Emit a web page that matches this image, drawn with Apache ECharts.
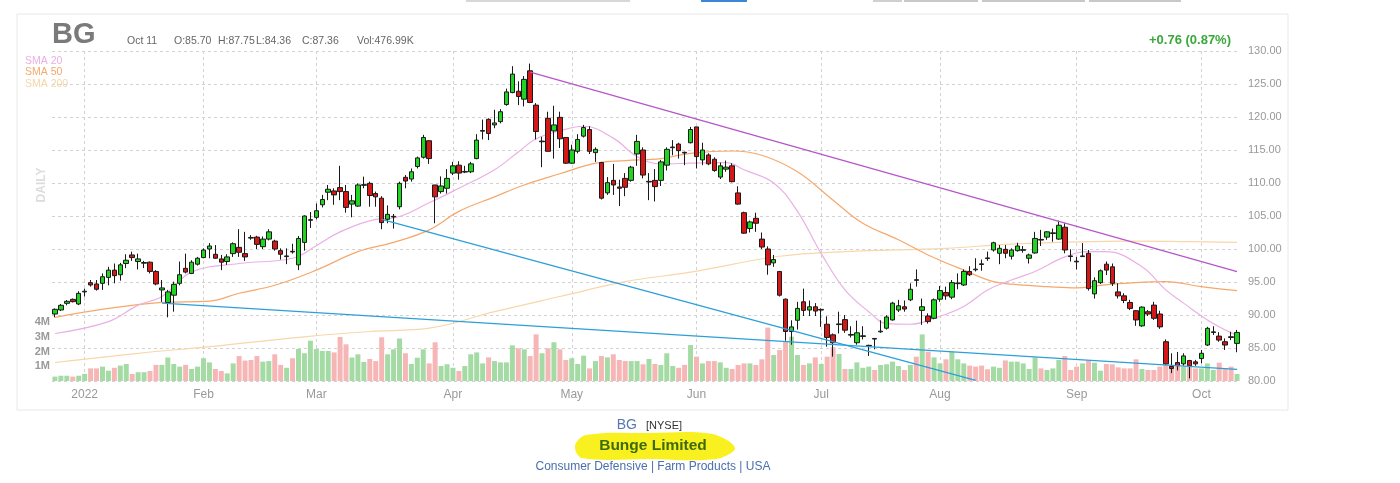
<!DOCTYPE html>
<html>
<head>
<meta charset="utf-8">
<script src="https://cdn.jsdelivr.net/npm/echarts@6/dist/echarts.min.js"></script>
<style>
  html, body { margin: 0; padding: 0; background: #fff; }
  #container { width: 1400px; height: 483px; }
</style>
</head>
<body>
<div id="container"></div>
<script>
// trading days shown (Dec 27 2021 .. Oct 11 2022)
var dates = [
  '2021-12-27','2021-12-28','2021-12-29','2021-12-30','2021-12-31',
  '2022-01-03','2022-01-04','2022-01-05','2022-01-06','2022-01-07','2022-01-10','2022-01-11','2022-01-12','2022-01-13','2022-01-14',
  '2022-01-18','2022-01-19','2022-01-20','2022-01-21','2022-01-24','2022-01-25','2022-01-26','2022-01-27','2022-01-28','2022-01-31',
  '2022-02-01','2022-02-02','2022-02-03','2022-02-04','2022-02-07','2022-02-08','2022-02-09','2022-02-10','2022-02-11','2022-02-14',
  '2022-02-15','2022-02-16','2022-02-17','2022-02-18','2022-02-22','2022-02-23','2022-02-24','2022-02-25','2022-02-28',
  '2022-03-01','2022-03-02','2022-03-03','2022-03-04','2022-03-07','2022-03-08','2022-03-09','2022-03-10','2022-03-11','2022-03-14',
  '2022-03-15','2022-03-16','2022-03-17','2022-03-18','2022-03-21','2022-03-22','2022-03-23','2022-03-24','2022-03-25','2022-03-28',
  '2022-03-29','2022-03-30','2022-03-31',
  '2022-04-01','2022-04-04','2022-04-05','2022-04-06','2022-04-07','2022-04-08','2022-04-11','2022-04-12','2022-04-13','2022-04-14',
  '2022-04-18','2022-04-19','2022-04-20','2022-04-21','2022-04-22','2022-04-25','2022-04-26','2022-04-27','2022-04-28','2022-04-29',
  '2022-05-02','2022-05-03','2022-05-04','2022-05-05','2022-05-06','2022-05-09','2022-05-10','2022-05-11','2022-05-12','2022-05-13',
  '2022-05-16','2022-05-17','2022-05-18','2022-05-19','2022-05-20','2022-05-23','2022-05-24','2022-05-25','2022-05-26','2022-05-27','2022-05-31',
  '2022-06-01','2022-06-02','2022-06-03','2022-06-06','2022-06-07','2022-06-08','2022-06-09','2022-06-10','2022-06-13','2022-06-14',
  '2022-06-15','2022-06-16','2022-06-17','2022-06-21','2022-06-22','2022-06-23','2022-06-24','2022-06-27','2022-06-28','2022-06-29','2022-06-30',
  '2022-07-01','2022-07-05','2022-07-06','2022-07-07','2022-07-08','2022-07-11','2022-07-12','2022-07-13','2022-07-14','2022-07-15',
  '2022-07-18','2022-07-19','2022-07-20','2022-07-21','2022-07-22','2022-07-25','2022-07-26','2022-07-27','2022-07-28','2022-07-29',
  '2022-08-01','2022-08-02','2022-08-03','2022-08-04','2022-08-05','2022-08-08','2022-08-09','2022-08-10','2022-08-11','2022-08-12',
  '2022-08-15','2022-08-16','2022-08-17','2022-08-18','2022-08-19','2022-08-22','2022-08-23','2022-08-24','2022-08-25','2022-08-26',
  '2022-08-29','2022-08-30','2022-08-31',
  '2022-09-01','2022-09-02','2022-09-06','2022-09-07','2022-09-08','2022-09-09','2022-09-12','2022-09-13','2022-09-14','2022-09-15',
  '2022-09-16','2022-09-19','2022-09-20','2022-09-21','2022-09-22','2022-09-23','2022-09-26','2022-09-27','2022-09-28','2022-09-29','2022-09-30',
  '2022-10-03','2022-10-04','2022-10-05','2022-10-06','2022-10-07','2022-10-10','2022-10-11'
];

var opens = [
  90.15,90.76,91.77,92.37,91.67,93.5,94.9,94.7,94.8,95.7,96.8,96.1,97.8,99.1,98.1,97.85,98.0,96.6,93.8,91.9,
  93.0,94.8,97.07,96.3,97.7,98.7,100.0,99.2,98.5,98.1,99.3,100.25,99.3,101.75,101.8,100.35,101.5,101.2,99.75,98.85,
  99.65,97.6,101.0,104.35,104.8,106.7,108.6,108.8,109.3,108.7,106.8,106.5,109.65,109.95,108.4,107.7,104.5,104.85,106.4,110.86,
  110.6,112.5,113.9,116.4,109.7,108.7,109.2,111.5,112.7,111.65,111.7,113.7,117.85,119.65,118.8,119.3,121.9,123.7,123.9,122.7,
  127.0,121.8,116.25,119.8,117.9,119.95,116.9,113.0,114.8,117.1,118.1,114.6,113.1,108.5,110.4,109.4,110.7,110.4,114.4,115.0,
  110.15,110.4,110.4,112.7,115.35,115.9,114.65,116.1,118.5,113.5,114.25,113.6,110.9,112.1,112.6,108.5,105.5,103.1,104.65,101.5,
  100.0,97.9,96.6,92.4,87.5,89.2,92.0,90.75,91.25,90.75,88.6,87.0,88.55,89.3,86.95,85.8,86.75,85.3,86.45,87.45,
  88.0,89.25,90.75,91.25,92.3,95.35,90.7,89.85,89.5,92.4,93.4,92.7,94.75,94.55,96.6,96.95,97.75,98.65,99.85,99.35,
  99.95,98.9,99.75,99.8,98.6,99.4,101.45,101.8,102.35,101.5,103.3,98.95,98.15,98.85,99.35,93.2,94.9,97.7,97.3,93.5,
  92.9,91.9,90.65,88.35,90.5,91.5,90.15,85.95,82.2,82.8,82.6,83.1,82.9,83.4,85.45,87.35,86.8,85.95,86.7,85.7
];
var highs = [
  91.0,91.67,92.27,92.5,93.6,94.0,95.3,95.3,96.3,97.3,97.8,97.9,99.2,99.6,99.3,98.2,98.1,96.8,95.3,93.8,
  95.05,98.1,99.3,98.3,98.8,100.1,100.9,100.6,99.1,99.2,101.0,103.0,102.6,102.1,102.0,101.9,103.0,101.4,100.1,100.1,
  100.8,101.97,105.1,105.6,106.9,108.2,109.7,109.2,112.6,109.7,108.2,109.95,110.96,110.2,108.7,108.0,106.6,105.3,110.2,111.2,
  112.2,114.0,117.3,116.5,109.7,111.0,112.1,113.2,113.3,112.6,113.2,117.4,119.6,119.8,121.1,121.2,124.3,127.7,125.4,126.2,
  128.1,122.1,117.0,120.8,121.7,120.8,116.9,115.8,117.4,118.8,118.6,115.4,113.2,110.9,112.9,110.5,111.5,112.6,117.3,115.4,
  111.5,112.1,113.5,115.4,116.5,116.1,114.75,118.5,118.5,116.1,114.5,113.9,113.1,113.4,113.0,109.5,105.66,104.3,105.5,102.5,
  100.4,99.1,96.6,92.5,89.2,92.0,94.0,92.2,91.8,91.0,89.8,87.2,90.5,90.0,88.3,89.15,88.3,85.5,86.5,89.2,
  89.97,92.0,92.3,92.2,94.8,96.9,92.5,90.25,92.5,94.4,94.3,95.3,96.3,96.9,97.4,98.6,98.4,99.6,101.1,100.6,
  100.6,100.1,100.95,100.45,99.3,102.6,102.9,102.7,103.1,104.3,103.9,99.95,98.8,100.9,99.85,95.7,96.9,98.1,97.8,94.8,
  93.3,92.3,90.75,91.3,90.75,92.0,90.65,86.3,84.2,84.4,84.2,83.2,83.2,84.7,88.2,88.3,87.4,86.45,87.45,87.75
];
var lows = [
  89.65,90.6,91.47,91.9,91.5,92.8,94.3,93.7,93.8,94.5,94.8,95.2,97.1,98.2,96.9,97.1,96.3,94.5,92.0,89.65,
  90.5,94.5,96.3,96.2,97.5,98.6,98.6,98.5,96.8,97.6,98.8,98.8,98.2,101.4,100.0,100.0,101.3,99.75,98.4,97.7,
  99.3,96.8,99.75,103.2,104.5,106.3,107.4,106.7,107.4,105.5,104.8,106.4,109.2,106.4,106.4,103.0,103.9,103.1,106.0,109.2,
  110.2,112.2,113.7,112.9,103.9,108.4,108.4,111.2,110.5,111.5,111.5,113.6,116.6,116.5,118.3,119.04,121.7,123.6,121.8,121.6,
  122.1,116.6,112.4,114.8,113.7,115.3,112.9,112.9,114.5,116.9,114.4,113.2,107.5,108.2,108.2,106.5,108.0,110.2,112.6,110.7,
  107.4,107.2,109.55,111.9,114.2,113.7,112.7,116.0,112.2,112.7,112.7,111.7,110.6,111.7,110.1,106.7,102.3,102.5,102.6,100.0,
  96.1,97.3,92.8,86.1,85.5,87.8,89.85,89.85,89.85,88.2,85.2,83.7,87.2,87.3,86.6,85.5,86.3,83.8,84.8,87.3,
  87.8,89.15,90.45,90.5,92.1,94.3,88.5,88.7,89.35,92.0,92.3,92.4,93.9,94.4,95.9,96.6,96.7,98.2,99.6,97.7,
  98.6,98.4,99.6,99.45,97.8,99.3,100.45,101.4,101.1,101.4,99.35,98.1,96.9,98.8,93.7,92.5,94.7,96.05,94.4,92.5,
  91.8,90.75,88.35,88.2,89.85,89.25,87.9,82.4,81.2,81.6,82.3,80.4,82.3,82.7,85.3,86.97,85.95,84.7,86.2,84.36
];
var closes = [
  90.86,91.47,92.07,92.02,93.28,93.6,94.55,93.9,95.8,96.8,95.96,97.6,98.3,98.7,98.5,97.95,96.6,94.7,94.1,93.5,
  94.65,96.1,96.5,98.0,98.6,99.85,100.45,98.6,98.0,98.8,100.8,99.5,98.8,101.65,100.7,101.5,102.6,100.0,99.2,98.95,
  99.55,101.6,105.0,104.45,105.8,107.5,109.05,108.2,108.7,106.3,107.3,109.7,109.75,108.1,107.9,104.0,105.25,104.95,109.95,110.3,
  111.7,113.8,116.9,113.7,107.9,109.55,110.7,112.6,111.5,111.75,112.9,116.5,117.95,117.5,119.1,120.8,123.8,126.5,123.1,125.7,
  122.2,117.8,116.35,114.8,118.8,116.7,113.0,115.0,116.6,118.4,114.8,115.1,107.7,110.05,109.7,109.2,109.35,112.4,116.3,111.2,
  110.25,109.45,113.2,115.1,115.45,114.9,114.55,118.1,114.0,115.0,112.9,111.9,112.6,112.4,110.2,106.8,102.4,104.1,103.9,100.3,
  97.6,98.4,93.0,87.5,88.2,91.0,90.7,91.25,90.6,90.85,86.6,85.8,88.65,87.7,87.05,87.3,86.85,85.4,86.35,87.55,
  89.7,91.8,91.4,90.9,93.9,95.25,91.25,89.0,92.3,93.7,92.9,94.9,94.85,96.6,96.1,96.85,97.65,98.55,100.95,100.1,
  99.35,99.85,100.45,99.9,99.1,101.6,101.35,102.6,102.45,103.6,99.85,98.85,98.05,98.95,94.0,95.2,96.7,96.8,94.8,92.9,
  92.2,91.0,89.25,91.2,90.15,89.5,88.2,82.6,81.9,82.3,83.8,82.3,82.6,84.2,87.98,87.45,86.2,85.45,86.6,87.36
];
// volume in millions of shares
var volumes = [
  0.3,0.36,0.36,0.3,0.36,0.48,0.86,0.86,0.98,0.7,0.9,1.05,1.16,0.48,0.6,0.6,0.68,1.1,1.1,1.6,
  1.16,0.98,1.1,0.82,0.98,1.55,1.27,0.82,0.68,0.52,1.2,1.7,1.39,1.43,1.7,1.32,1.36,1.82,1.1,0.9,
  1.55,2.18,1.89,2.75,2.18,2.05,2.05,1.95,3.0,2.5,1.6,1.82,1.3,1.5,1.36,2.98,1.82,2.16,2.9,1.89,
  1.16,1.59,2.16,1.2,2.64,1.02,1.14,0.9,0.68,1.02,1.82,1.95,1.2,1.61,1.36,1.27,1.27,2.43,2.23,2.16,
  1.7,3.18,1.89,2.23,2.64,2.16,1.43,1.55,1.16,1.73,0.86,1.36,1.7,1.61,1.82,1.43,1.36,1.36,1.36,1.14,
  1.5,1.16,1.09,1.89,1.02,0.9,1.1,2.45,1.66,1.2,1.36,1.36,1.27,0.9,0.82,1.09,1.2,1.2,1.09,1.48,
  3.64,1.77,2.11,2.68,3.02,1.77,1.09,1.2,1.61,1.16,1.66,2.3,1.84,0.82,0.82,1.27,0.9,0.98,0.75,1.09,
  1.14,1.32,1.02,0.75,1.09,1.66,3.18,2.0,1.61,1.2,1.48,2.0,1.48,1.2,1.05,0.98,1.05,0.8,0.98,0.9,
  1.4,1.32,1.32,1.2,0.82,1.61,0.86,0.75,0.86,1.43,1.7,0.75,0.98,1.2,1.39,1.25,0.7,1.16,1.14,0.93,
  0.86,0.86,1.48,0.82,0.75,0.75,0.98,1.14,1.02,0.98,0.98,0.98,0.86,0.86,1.2,0.75,1.25,0.86,0.98,0.48
];

// moving averages: [day index, value]
var sma20 = [[0,87.2],[9,89.0],[14,91.5],[18,92.8],[23,96.5],[31,97.8],[40,98.6],[44,100.5],[48,102.6],[54,104.5],
  [57,104.7],[63,107.0],[68,109.2],[74,112.0],[78,114.7],[81,116.7],[85,117.9],[89,118.6],[94,116.8],[98,114.0],
  [102,112.9],[107,113.0],[113,113.1],[116,112.0],[121,110.0],[125,105.7],[129,99.3],[133,93.8],[137,90.5],[140,88.7],
  [144,88.6],[148,89.5],[153,91.3],[157,93.8],[161,95.3],[165,96.6],[170,98.8],[174,99.6],[177,99.6],[183,97.3],
  [187,93.8],[190,91.8],[195,88.7],[199,86.9]];
var sma50 = [[0,89.65],[9,91.0],[18,91.9],[26,92.1],[31,93.3],[37,94.5],[44,96.8],[51,99.6],[57,101.0],[63,102.9],
  [68,105.7],[74,107.9],[79,109.7],[85,111.4],[91,113.0],[96,113.4],[102,113.7],[107,114.5],[114,114.85],[119,114.2],
  [125,111.7],[131,107.4],[136,103.9],[142,101.4],[147,99.1],[153,96.8],[158,95.05],[162,94.6],[167,94.3],[172,94.1],
  [176,94.5],[182,94.9],[187,95.05],[193,94.3],[199,93.7]];
var sma200 = [[0,82.8],[14,84.2],[26,85.2],[42,86.7],[53,87.5],[63,88.0],[74,90.5],[85,92.8],[96,95.05],[107,96.5],
  [122,98.9],[133,99.6],[150,100.1],[161,100.75],[181,101.2],[199,101.0]];

// trend lines: [[day index, price], [day index, price]]
var trendTop = [[80, 126.8], [199, 96.56]];
var trendLowA = [[55, 104.5], [155, 80.1]];
var trendLowB = [[18, 91.8], [199, 81.77]];

var monthNames = ['Jan','Feb','Mar','Apr','May','Jun','Jul','Aug','Sep','Oct','Nov','Dec'];
var FONT = '"Liberation Sans", Arial, sans-serif';

var dom = document.getElementById('container');
var myChart = echarts.init(dom, null, { renderer: 'canvas' });

function isMonthStart(index) {
  return index > 0 && dates[index].slice(5, 7) !== dates[index - 1].slice(5, 7);
}
function monthLabel(value) {
  var m = parseInt(value.slice(5, 7), 10);
  return m === 1 ? value.slice(0, 4) : monthNames[m - 1];
}

var candleData = dates.map(function (d, i) {
  return [opens[i], closes[i], lows[i], highs[i]];
});
var volumeData = volumes.map(function (v, i) {
  var up = closes[i] > opens[i] || (closes[i] === opens[i] && i > 0 && closes[i] >= closes[i - 1]);
  return { value: v, itemStyle: { color: up ? '#a4dba4' : '#f7b6b6' } };
});
function toLine(pts) {
  return pts.map(function (p) { return [dates[p[0]], p[1]]; });
}
function trend(pts, color) {
  return [
    { coord: [dates[pts[0][0]], pts[0][1]], lineStyle: { color: color, width: 1.3, type: 'solid' } },
    { coord: [dates[pts[1][0]], pts[1][1]] }
  ];
}
function headText(x, str) {
  return { type: 'text', style: { x: x, y: 41, text: str, font: '10.5px ' + FONT, fill: '#666', verticalAlign: 'middle', textVerticalAlign: 'middle' } };
}

var lastClose = closes[closes.length - 1];

var option = {
  animation: false,
  backgroundColor: '#fff',
  grid: [
    { left: 52, right: 160, top: 51, bottom: 102 },
    { left: 52, right: 160, top: 293, bottom: 102 }
  ],
  xAxis: [
    {
      type: 'category',
      data: dates,
      gridIndex: 0,
      boundaryGap: true,
      axisLine: { show: false },
      axisTick: { show: false },
      axisLabel: {
        interval: function (index) { return isMonthStart(index); },
        formatter: monthLabel,
        color: '#999',
        fontFamily: FONT,
        fontSize: 12,
        margin: 8
      },
      splitLine: {
        show: true,
        alignWithLabel: true,
        interval: function (index) { return isMonthStart(index); },
        lineStyle: { color: '#d2d2d2', type: [3, 3], width: 1 }
      }
    },
    {
      type: 'category',
      data: dates,
      gridIndex: 1,
      boundaryGap: true,
      show: false
    }
  ],
  yAxis: [
    {
      type: 'value',
      gridIndex: 0,
      position: 'right',
      min: 80,
      max: 130,
      interval: 5,
      axisLine: { show: false },
      axisTick: { show: false },
      axisLabel: {
        color: '#999',
        fontFamily: FONT,
        fontSize: 11,
        margin: 8,
        formatter: function (v) { return v.toFixed(2); }
      },
      splitLine: { lineStyle: { color: '#d2d2d2', type: [3, 3], width: 1 } }
    },
    {
      type: 'value',
      gridIndex: 1,
      position: 'left',
      min: 0,
      max: 6,
      interval: 1,
      axisLine: { show: false },
      axisTick: { show: false },
      splitLine: { show: false },
      axisLabel: {
        color: '#999',
        fontFamily: FONT,
        fontSize: 11,
        fontWeight: 'bold',
        margin: 2,
        formatter: function (v) { return (v >= 1 && v <= 4) ? v + 'M' : ''; }
      }
    }
  ],
  series: [
    {
      name: 'Volume',
      type: 'bar',
      xAxisIndex: 1,
      yAxisIndex: 1,
      data: volumeData,
      barCategoryGap: '16%',
      z: 1
    },
    {
      name: 'SMA 200',
      type: 'line',
      data: toLine(sma200),
      smooth: 0.4,
      showSymbol: false,
      lineStyle: { color: '#f7d7ab', width: 1.2 },
      z: 2
    },
    {
      name: 'SMA 50',
      type: 'line',
      data: toLine(sma50),
      smooth: 0.4,
      showSymbol: false,
      lineStyle: { color: '#f5a86c', width: 1.2 },
      z: 2
    },
    {
      name: 'SMA 20',
      type: 'line',
      data: toLine(sma20),
      smooth: 0.4,
      showSymbol: false,
      lineStyle: { color: '#eab0e6', width: 1.2 },
      z: 2
    },
    {
      name: 'BG',
      type: 'candlestick',
      data: candleData,
      barWidth: 5,
      z: 3,
      itemStyle: {
        color: '#22d422',
        color0: '#d41818',
        borderColor: '#1a1a1a',
        borderColor0: '#1a1a1a',
        borderColorDoji: '#1a1a1a',
        borderWidth: 1
      },
      markLine: {
        silent: true,
        symbol: 'none',
        animation: false,
        label: { show: false },
        data: [
          trend(trendTop, '#b556c8'),
          trend(trendLowA, '#2c9fd9'),
          trend(trendLowB, '#2c9fd9'),
          {
            yAxis: lastClose,
            lineStyle: { opacity: 0 },
            label: {
              show: true,
              position: 'end',
              distance: 6,
              formatter: function (p) { return p.value.toFixed(2); },
              backgroundColor: '#ffff1a',
              color: '#333',
              fontFamily: FONT,
              fontSize: 11,
              padding: [1, 2]
            }
          }
        ]
      }
    }
  ],
  graphic: [
    { type: 'rect', shape: { x: 17, y: 14, width: 1271, height: 396 }, style: { fill: 'none', stroke: '#e8e8e8', lineWidth: 1 }, z: -10 },
    { type: 'rect', shape: { x: 466, y: 0, width: 164, height: 2 }, style: { fill: '#d8d8d8' } },
    { type: 'rect', shape: { x: 701, y: 0, width: 46, height: 2 }, style: { fill: '#3c86d6' } },
    { type: 'rect', shape: { x: 873, y: 0, width: 29, height: 2 }, style: { fill: '#d0d0d0' } },
    { type: 'rect', shape: { x: 904, y: 0, width: 74, height: 2 }, style: { fill: '#c8c8c8' } },
    { type: 'rect', shape: { x: 982, y: 0, width: 103, height: 2 }, style: { fill: '#c8c8c8' } },
    { type: 'rect', shape: { x: 1089, y: 0, width: 92, height: 2 }, style: { fill: '#c8c8c8' } },

    { type: 'text', style: { x: 52, y: 35, text: 'BG', font: 'bold 29px ' + FONT, fill: '#7a7a7a', verticalAlign: 'middle', textVerticalAlign: 'middle' } },
    headText(127, 'Oct 11'),
    headText(174, 'O:85.70'),
    headText(218, 'H:87.75'),
    headText(256, 'L:84.36'),
    headText(302, 'C:87.36'),
    headText(357, 'Vol:476.99K'),
    { type: 'text', style: { x: 1231, y: 40, text: '+0.76 (0.87%)', font: 'bold 13px ' + FONT, fill: '#3aa83a', align: 'right', textAlign: 'right', verticalAlign: 'middle', textVerticalAlign: 'middle' } },

    { type: 'text', style: { x: 25, y: 61, text: 'SMA 20', font: '10.5px ' + FONT, fill: '#eab0e6', verticalAlign: 'middle', textVerticalAlign: 'middle' } },
    { type: 'text', style: { x: 25, y: 72, text: 'SMA 50', font: '10.5px ' + FONT, fill: '#f5a86c', verticalAlign: 'middle', textVerticalAlign: 'middle' } },
    { type: 'text', style: { x: 25, y: 84, text: 'SMA 200', font: '10.5px ' + FONT, fill: '#f5d7a8', verticalAlign: 'middle', textVerticalAlign: 'middle' } },
    { type: 'text', x: 42, y: 185, rotation: Math.PI / 2, style: { x: 0, y: 0, text: 'DAILY', font: 'bold 12px ' + FONT, fill: '#dcdcdc', align: 'center', textAlign: 'center', verticalAlign: 'middle', textVerticalAlign: 'middle' } },

    { type: 'polygon', shape: { smooth: 0.35, points: [[586, 435], [650, 433], [712, 434], [735, 448], [716, 459], [650, 459], [582, 458], [575, 446]] }, style: { fill: '#f8f01f' } },
    { type: 'text', style: { x: 637, y: 425, text: 'BG', font: '14px ' + FONT, fill: '#5677b0', align: 'right', textAlign: 'right', verticalAlign: 'middle', textVerticalAlign: 'middle' } },
    { type: 'text', style: { x: 646, y: 426, text: '[NYSE]', font: '11px ' + FONT, fill: '#333', verticalAlign: 'middle', textVerticalAlign: 'middle' } },
    { type: 'text', style: { x: 653, y: 446, text: 'Bunge Limited', font: 'bold 15.5px ' + FONT, fill: '#3d6b0c', align: 'center', textAlign: 'center', verticalAlign: 'middle', textVerticalAlign: 'middle' } },
    { type: 'text', style: { x: 653, y: 467, text: 'Consumer Defensive | Farm Products | USA', font: '12px ' + FONT, fill: '#4a6fae', align: 'center', textAlign: 'center', verticalAlign: 'middle', textVerticalAlign: 'middle' } }
  ]
};

myChart.setOption(option);
window.addEventListener('resize', myChart.resize);
</script>
</body>
</html>
